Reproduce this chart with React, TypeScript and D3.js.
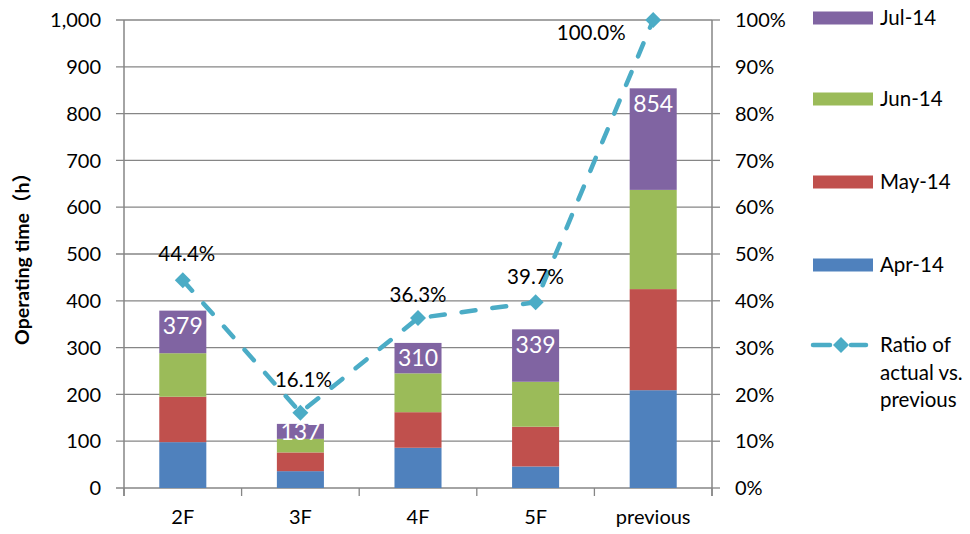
import React from 'react';
import * as d3 from 'd3';

const categories = ['2F', '3F', '4F', '5F', 'previous'];
const seriesNames = ['Apr-14', 'May-14', 'Jun-14', 'Jul-14'];
const apr14 = [98, 36, 86, 46, 209];
const may14 = [97, 40, 76, 85, 216];
const jun14 = [93, 29, 83, 96, 212];
const jul14 = [91, 32, 65, 112, 217];
const ratioPct = [44.4, 16.1, 36.3, 39.7, 100.0];
const leftTicks = [0, 100, 200, 300, 400, 500, 600, 700, 800, 900, 1000];
const rightTicks = [0, 10, 20, 30, 40, 50, 60, 70, 80, 90, 100];
const ratioName = ['Ratio of', 'actual vs.', 'previous'];
const yTitle = 'Operating time（h）';

// layout (not data)
const ratioLabelShift: [number, number][] = [[4, -27], [3, -33], [0, -23], [0, -26], [-62, 13]];
const colors = ['#4F81BD', '#C0504D', '#9BBB59', '#8064A2'];
const lineColor = '#4BACC6';
const axisColor = '#868686';
const FONT = "Lato, 'Noto Sans', 'Noto Sans CJK JP', sans-serif";

export default function App() {
  const W = 970, H = 534;
  const left = 124, right = 712, top = 20, bottom = 488;
  const x = d3.scaleBand<string>().domain(categories).range([left, right]).padding(0);
  const y = d3.scaleLinear().domain([0, 1000]).range([bottom, top]);
  const y2 = d3.scaleLinear().domain([0, 100]).range([bottom, top]);
  const barW = x.bandwidth() * 0.4;
  const rows = categories.map((c, i) => ({ cat: c, 'Apr-14': apr14[i], 'May-14': may14[i], 'Jun-14': jun14[i], 'Jul-14': jul14[i] }));
  const stack = d3.stack<any>().keys(seriesNames)(rows);
  const cx = (c: string) => (x(c) as number) + x.bandwidth() / 2;
  const linePts: [number, number][] = categories.map((c, i) => [cx(c), y2(ratioPct[i])]);
  const line = d3.line()(linePts) as string;
  const diamond = (px: number, py: number, r: number) => `M${px},${py - r}L${px + r},${py}L${px},${py + r}L${px - r},${py}Z`;
  const legendY = [265, 182, 99, 18];

  return (
    <svg width={W} height={H} style={{ position: 'absolute', left: 0, top: 0, background: '#fff' }} fontFamily={FONT}>
      {/* gridlines */}
      {leftTicks.map((t) => (
        <line key={'g' + t} x1={left - 8} x2={right} y1={y(t)} y2={y(t)} stroke={axisColor} strokeWidth={1.3} />
      ))}
      {/* right ticks */}
      {rightTicks.map((t) => (
        <line key={'rt' + t} x1={right} x2={right + 8} y1={y2(t)} y2={y2(t)} stroke={axisColor} strokeWidth={1.3} />
      ))}
      {/* axes */}
      <line x1={left} x2={left} y1={top} y2={bottom + 8} stroke={axisColor} strokeWidth={1.5} />
      <line x1={right} x2={right} y1={top} y2={bottom + 8} stroke={axisColor} strokeWidth={1.5} />
      {categories.map((c) => (
        <line key={'bt' + c} x1={x(c) as number} x2={x(c) as number} y1={bottom} y2={bottom + 8} stroke={axisColor} strokeWidth={1.3} />
      ))}
      <line x1={right} x2={right} y1={bottom} y2={bottom + 8} stroke={axisColor} strokeWidth={1.3} />
      {/* bars */}
      {stack.map((s, si) => (
        <g key={s.key} fill={colors[si]}>
          {s.map((d: any, i: number) => (
            <rect key={i} x={cx(categories[i]) - barW / 2} width={barW} y={y(d[1])} height={y(d[0]) - y(d[1])} />
          ))}
        </g>
      ))}
      {/* total labels */}
      {categories.map((c, i) => {
        const topSeg = stack[stack.length - 1][i];
        const t0 = y(topSeg[1]), t1 = y(topSeg[0]);
        const h = t1 - t0;
        const cy = h < 30 ? (t0 + t1) / 2 : t0 + 15;
        const total = d3.sum(stack, (s) => s[i][1] - s[i][0]);
        return (
          <text key={'tl' + c} x={cx(c)} y={cy} dy="0.36em" textAnchor="middle" fill="#fff" fontSize={23}>{total}</text>
        );
      })}
      {/* ratio line */}
      <path d={line} fill="none" stroke={lineColor} strokeWidth={4.5} strokeDasharray="14 17" strokeLinecap="round" />
      {linePts.map((p, i) => (
        <path key={'m' + i} d={diamond(p[0], p[1], 8)} fill={lineColor} />
      ))}
      {linePts.map((p, i) => (
        <text key={'rl' + i} x={p[0] + ratioLabelShift[i][0]} y={p[1] + ratioLabelShift[i][1]} dy="0.36em" textAnchor="middle" fontSize={20.5} fill="#000">
          {d3.format('.1f')(ratioPct[i]) + '%'}
        </text>
      ))}
      {/* left tick labels */}
      {leftTicks.map((t) => (
        <text key={'lt' + t} x={101} y={y(t)} dy="0.36em" textAnchor="end" fontSize={20} fill="#000">{d3.format(',')(t)}</text>
      ))}
      {/* right tick labels */}
      {rightTicks.map((t) => (
        <text key={'rtl' + t} x={735} y={y2(t)} dy="0.36em" textAnchor="start" fontSize={20} fill="#000">{t + '%'}</text>
      ))}
      {/* category labels */}
      {categories.map((c) => (
        <text key={'cl' + c} x={cx(c)} y={517} dy="0.36em" textAnchor="middle" fontSize={20} fill="#000">{c}</text>
      ))}
      {/* y title */}
      <text transform={`translate(22,${(top + bottom) / 2}) rotate(-90)`} textAnchor="middle" dy="0.36em" fontSize={19.5} fontWeight="bold" fill="#000">{yTitle}</text>
      {/* legend */}
      {seriesNames.map((n, i) => (
        <g key={'lg' + n}>
          <rect x={813} y={legendY[i] - 6.5} width={60} height={13} fill={colors[i]} />
          <text x={880} y={legendY[i]} dy="0.36em" fontSize={20.5} fill="#000">{n}</text>
        </g>
      ))}
      <line x1={813} x2={830} y1={345} y2={345} stroke={lineColor} strokeWidth={4.5} strokeLinecap="round" />
      <line x1={851} x2={866} y1={345} y2={345} stroke={lineColor} strokeWidth={4.5} strokeLinecap="round" />
      <path d={diamond(841, 345, 8)} fill={lineColor} />
      {ratioName.map((t, i) => (
        <text key={'rn' + i} x={880} y={345 + i * 27.5} dy="0.36em" fontSize={20.5} fill="#000">{t}</text>
      ))}
    </svg>
  );
}
